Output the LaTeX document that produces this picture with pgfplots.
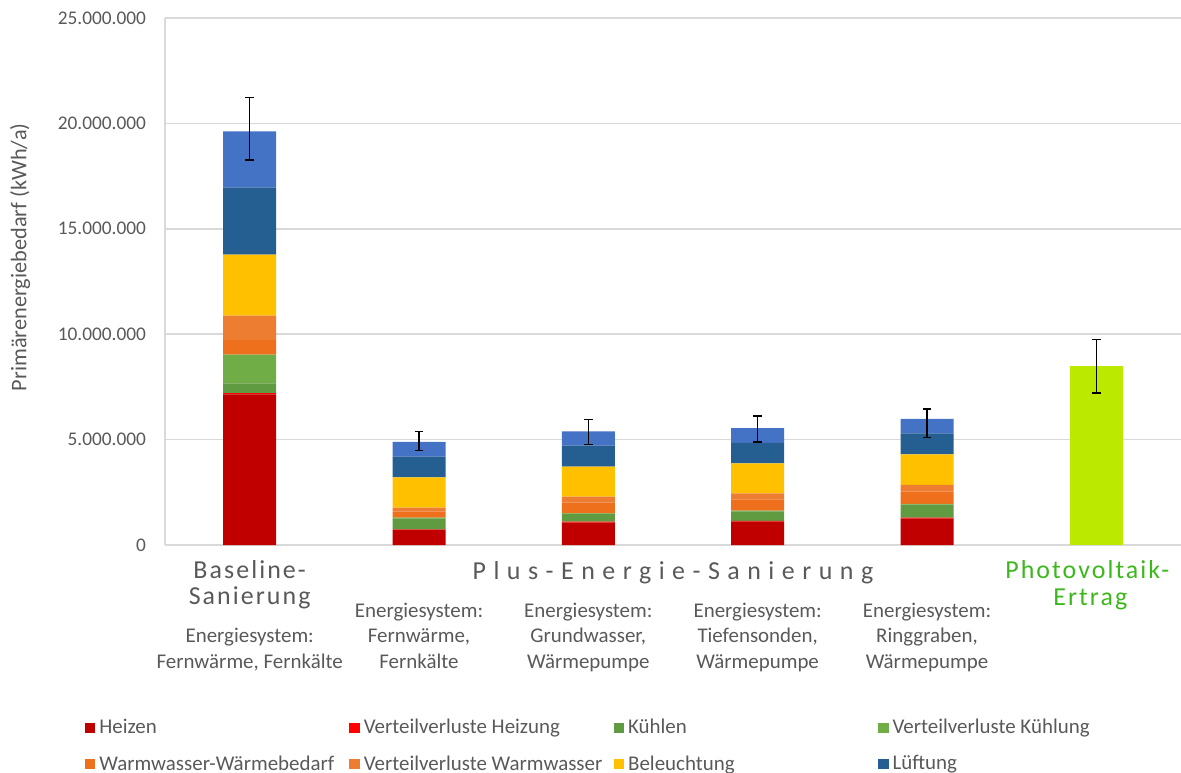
\documentclass[border=0pt]{standalone}
\usepackage{pgfplots}
\usepackage{pgfplotstable}
\pgfplotsset{compat=1.18}
\usepackage{fontspec}
\setmainfont{Carlito}
\definecolor{cHeizen}{HTML}{C00000}
\definecolor{cVVH}{HTML}{FF0000}
\definecolor{cKuehlen}{HTML}{619B41}
\definecolor{cVVK}{HTML}{70AD47}
\definecolor{cWW}{HTML}{EE6F1C}
\definecolor{cVVWW}{HTML}{ED7D31}
\definecolor{cBel}{HTML}{FFC000}
\definecolor{cLuef}{HTML}{255E91}
\definecolor{cVVL}{HTML}{4472C4}
\definecolor{cPV}{HTML}{BBEA00}
\definecolor{txt}{HTML}{595959}
\definecolor{pvtxt}{HTML}{3DB81C}
\definecolor{grid}{HTML}{D9D9D9}

\pgfplotstableread{
x heizen vvh kuehlen vvk ww vvww bel luef vvl pv
0 7150000 50000 470000 1360000 700000 1150000 2890000 3180000 2670000 0
1 725000 20000 520000 35000 280000 190000 1440000 980000 700000 0
2 1060000 50000 370000 20000 510000 280000 1430000 990000 680000 0
3 1110000 40000 450000 30000 540000 280000 1420000 980000 700000 0
4 1250000 50000 610000 40000 580000 320000 1450000 1000000 680000 0
5 0 0 0 0 0 0 0 0 0 8490000
}\data

\pgfplotstableread{
x y ep em
0 19620000 1610000 1360000
1 4890000 490000 400000
2 5390000 550000 620000
3 5550000 570000 660000
4 5980000 470000 890000
5 8490000 1260000 1280000
}\errdata

\newcommand{\grp}[1]{\fontsize{13}{13}\selectfont\addfontfeature{LetterSpace=#1}}

\begin{document}
\begin{tikzpicture}
\path[use as bounding box] (0,0) rectangle (590.5bp,386.5bp);
\begin{axis}[
  at={(82.5bp,114bp)}, anchor=south west,
  scale only axis, width=508bp, height=263.5bp,
  xmin=-0.5, xmax=5.5, ymin=0, ymax=25000000,
  ybar stacked, bar width=26.5bp,
  axis x line*=bottom, axis y line*=left,
  axis line style={draw=grid, line width=0.75bp, -},
  ymajorgrids, grid style={draw=grid, line width=0.75bp},
  major tick length=0,
  ytick={0,5000000,10000000,15000000,20000000,25000000},
  scaled y ticks=false,
  yticklabel style={/pgf/number format/.cd, fixed, 1000 sep={.}, assume math mode=true, /tikz/.cd,
    font=\fontsize{9.7}{11}\selectfont, text=txt, xshift=-6bp},
  xtick={0,1,2,3,4},
  xticklabels={{\vphantom{Energiesystem:}\\Energiesystem:\\Fernwärme, Fernkälte},
               {Energiesystem:\\Fernwärme,\\Fernkälte},
               {Energiesystem:\\Grundwasser,\\Wärmepumpe},
               {Energiesystem:\\Tiefensonden,\\Wärmepumpe},
               {Energiesystem:\\Ringgraben,\\Wärmepumpe}},
  xticklabel style={align=center, font=\fontsize{10.5}{12.75}\selectfont, text=txt, anchor=north, yshift=-25.5bp},
  ylabel={Primärenergiebedarf (kWh/a)},
  ylabel style={at={(axis description cs:-0.1427,0.546)}, anchor=center, rotate=0, font=\fontsize{11.2}{13}\selectfont, text=txt},
  legend columns=4,
  legend cell align=left,
  legend style={draw=none, fill=none, inner sep=0pt, outer sep=0pt,
    at={(axis description cs:-0.0787,-0.3227)}, anchor=north west,
    font=\fontsize{10.5}{12}\selectfont, text=txt, row sep=5.5bp,
    /tikz/every even column/.append style={column sep=3bp}},
  legend image code/.code={\fill[#1,draw=none] (0bp,-2.6bp) rectangle (5.2bp,2.6bp);},
  clip=false,
]
\addplot[fill=cHeizen, draw=none] table[x=x,y=heizen]{\data};
\addlegendentry{\makebox[120bp][l]{Heizen}}
\addplot[fill=cVVH, draw=none] table[x=x,y=vvh]{\data};
\addlegendentry{\makebox[120bp][l]{Verteilverluste Heizung}}
\addplot[fill=cKuehlen, draw=none] table[x=x,y=kuehlen]{\data};
\addlegendentry{\makebox[120bp][l]{Kühlen}}
\addplot[fill=cVVK, draw=none] table[x=x,y=vvk]{\data};
\addlegendentry{\makebox[120bp][l]{Verteilverluste Kühlung}}
\addplot[fill=cWW, draw=none] table[x=x,y=ww]{\data};
\addlegendentry{\makebox[120bp][l]{Warmwasser-Wärmebedarf}}
\addplot[fill=cVVWW, draw=none] table[x=x,y=vvww]{\data};
\addlegendentry{\makebox[120bp][l]{Verteilverluste Warmwasser}}
\addplot[fill=cBel, draw=none] table[x=x,y=bel]{\data};
\addlegendentry{\makebox[120bp][l]{Beleuchtung}}
\addplot[fill=cLuef, draw=none] table[x=x,y=luef]{\data};
\addlegendentry{\makebox[120bp][l]{Lüftung}}
\addplot[fill=cVVL, draw=none] table[x=x,y=vvl]{\data};
\addplot[fill=cPV, draw=none] table[x=x,y=pv]{\data};

% group labels
\node[anchor=base, text=txt, font=\grp{8}] at (axis cs:0,0) [yshift=-16.5bp] {Baseline-};
\node[anchor=base, text=txt, font=\grp{8}] at (axis cs:0,0) [yshift=-29.5bp] {Sanierung};
\node[anchor=base, text=txt, font=\grp{29}] at (axis cs:2.5,0) [yshift=-17bp] {Plus-Energie-Sanierung};
\node[anchor=base, text=pvtxt, font=\grp{8}] at (axis cs:5,0) [yshift=-16.5bp, xshift=-4.5bp] {Photovoltaik-};
\node[anchor=base, text=pvtxt, font=\grp{8}] at (axis cs:5,0) [yshift=-30bp, xshift=-3bp] {Ertrag};
\end{axis}
\begin{axis}[
  at={(82.5bp,114bp)}, anchor=south west,
  scale only axis, width=508bp, height=263.5bp,
  xmin=-0.5, xmax=5.5, ymin=0, ymax=25000000,
  hide axis, clip=false,
]
\addplot[draw=none, no markers,
  error bars/.cd, y dir=both, y explicit,
  error bar style={draw=black, line width=0.6bp, solid},
  error mark options={draw=black, rotate=90, mark size=2.1bp, line width=0.6bp}]
  table[x=x, y=y, y error plus=ep, y error minus=em]{\errdata};
\end{axis}
\end{tikzpicture}
\end{document}
